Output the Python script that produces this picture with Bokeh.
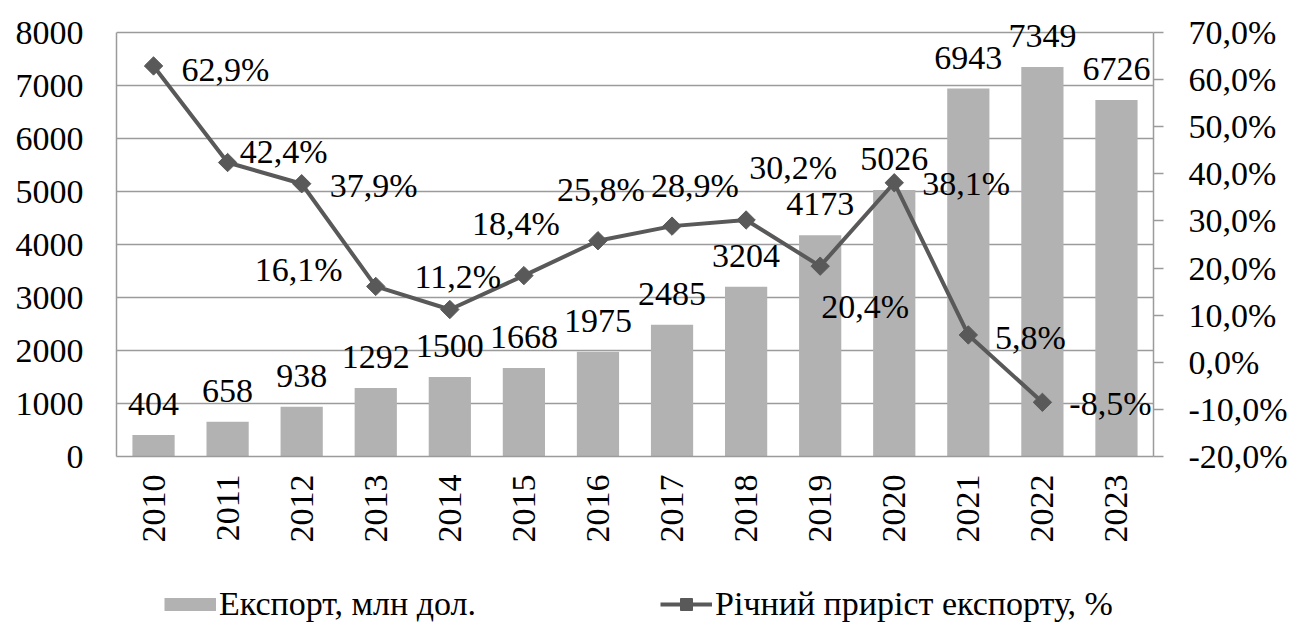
import math
from bokeh.plotting import figure
from bokeh.layouts import column
from bokeh.models import (ColumnDataSource, FactorRange, Range1d, LinearAxis, FixedTicker,
                          CustomJSTickFormatter, LabelSet, Legend, LegendItem)
from bokeh.embed import file_html
from bokeh.resources import INLINE

# ---- data ----
years = ["2010", "2011", "2012", "2013", "2014", "2015", "2016",
         "2017", "2018", "2019", "2020", "2021", "2022", "2023"]
export = [404, 658, 938, 1292, 1500, 1668, 1975, 2485, 3204, 4173, 5026, 6943, 7349, 6726]
growth_years = ["2010", "2011", "2012", "2013", "2014", "2015", "2016",
                "2017", "2018", "2019", "2020", "2021", "2022"]
growth = [62.9, 42.4, 37.9, 16.1, 11.2, 18.4, 25.8, 28.9, 30.2, 20.4, 38.1, 5.8, -8.5]
left_ticks = [0, 1000, 2000, 3000, 4000, 5000, 6000, 7000, 8000]
right_ticks = [-20, -10, 0, 10, 20, 30, 40, 50, 60, 70]
left_bounds = (0, 8000)
right_bounds = (-20, 70)
legend_labels = ["Експорт, млн дол.", "Річний приріст експорту, %"]

export_labels = [str(v) for v in export]
growth_labels = [f"{v:.1f}".replace(".", ",") + "%" for v in growth]

# label placement (screen px, relative to point)
growth_dx = [72, 56, 72, -77, 8, -8, 3, 23, 47, 45, 72, 62, 68]
growth_dy = [-4, 11, -2, 17, 33, 52, 51, 41, 53, -40, -1, -3, -1]

FONT = "Liberation Serif"
GRID = "#9b9b9b"
BAR = "#b2b2b2"
LINE = "#595959"

# layout: axes span 424 px; the frame extends above the top tick so labels are not clipped
AXIS_PX = 424.0
FRAME_PX = 456.0
left_end = left_bounds[0] + (left_bounds[1] - left_bounds[0]) * FRAME_PX / AXIS_PX
right_end = right_bounds[0] + (right_bounds[1] - right_bounds[0]) * FRAME_PX / AXIS_PX

src = ColumnDataSource(dict(year=years, export=export, lab=export_labels))
gsrc = ColumnDataSource(dict(year=growth_years, growth=growth, lab=growth_labels,
                             dx=growth_dx, dy=growth_dy))

p = figure(x_range=FactorRange(*years), y_range=Range1d(left_bounds[0], left_end),
           width=1290, height=546, output_backend="svg", toolbar_location=None,
           min_border_left=116, min_border_right=136, min_border_top=0, min_border_bottom=90)
p.extra_y_ranges = {"pct": Range1d(right_bounds[0], right_end)}
p.outline_line_color = None
p.background_fill_color = "white"
p.border_fill_color = "white"

# left axis
p.yaxis.ticker = FixedTicker(ticks=left_ticks)
p.yaxis.bounds = left_bounds
p.yaxis.major_tick_line_color = None
p.yaxis.minor_tick_line_color = None
p.yaxis.axis_line_color = GRID
p.yaxis.axis_line_width = 1.5
p.yaxis.major_label_standoff = 27
p.yaxis.major_label_text_font = FONT
p.yaxis.major_label_text_font_size = "34px"
p.yaxis.major_label_text_color = "black"

# bottom axis
p.xaxis.major_label_orientation = math.pi / 2
p.xaxis.major_tick_line_color = None
p.xaxis.minor_tick_line_color = None
p.xaxis.axis_line_color = GRID
p.xaxis.axis_line_width = 1.5
p.xaxis.major_label_standoff = 12
p.xaxis.major_label_text_font = FONT
p.xaxis.major_label_text_font_size = "34px"
p.xaxis.major_label_text_color = "black"

# right axis
raxis = LinearAxis(y_range_name="pct", ticker=FixedTicker(ticks=right_ticks), bounds=right_bounds,
                   formatter=CustomJSTickFormatter(code="return tick.toFixed(1).replace('.', ',') + '%';"))
raxis.axis_line_color = GRID
raxis.axis_line_width = 1.5
raxis.major_tick_line_color = GRID
raxis.major_tick_line_width = 1.5
raxis.major_tick_out = 10
raxis.major_tick_in = 0
raxis.minor_tick_line_color = None
raxis.major_label_standoff = 25
raxis.major_label_text_font = FONT
raxis.major_label_text_font_size = "34px"
raxis.major_label_text_color = "black"
p.add_layout(raxis, "right")

p.xgrid.grid_line_color = None
p.ygrid.grid_line_color = GRID
p.ygrid.grid_line_width = 1.5

bars = p.vbar(x="year", top="export", width=0.57, source=src,
              fill_color=BAR, line_color=None)
line = p.line(x="year", y="growth", source=gsrc, y_range_name="pct",
              line_color=LINE, line_width=4)
marks = p.scatter(x="year", y="growth", source=gsrc, y_range_name="pct",
                  marker="square", angle=math.pi / 4, size=13,
                  fill_color=LINE, line_color=LINE)

bar_labels = LabelSet(x="year", y="export", text="lab", source=src, y_offset=31,
                      text_align="center", text_baseline="middle",
                      text_font=FONT, text_font_size="34px", text_color="black")
p.add_layout(bar_labels)

g_labels = LabelSet(x="year", y="growth", text="lab", source=gsrc, y_range_name="pct",
                    x_offset="dx", y_offset="dy",
                    text_align="center", text_baseline="middle",
                    text_font=FONT, text_font_size="34px", text_color="black")
p.add_layout(g_labels)

# ---- legend strip (separate figure so it is not clipped by the plot frame) ----
lf = figure(width=1290, height=78, output_backend="svg", toolbar_location=None,
            x_range=Range1d(0, 1), y_range=Range1d(0, 1),
            min_border=0, min_border_left=0, min_border_right=0,
            min_border_top=0, min_border_bottom=0)
lf.axis.visible = False
lf.grid.visible = False
lf.outline_line_color = None
# legend-only proxies, placed outside the visible range
lswatch = lf.line(x=[-5, -4], y=[-5, -5], line_color=BAR, line_width=13, line_cap="butt")
lline = lf.line(x=[-5, -4], y=[-5, -5], line_color=LINE, line_width=4)
lmark = lf.scatter(x=[-5], y=[-5], marker="square", angle=math.pi / 4, size=13,
                   fill_color=LINE, line_color=LINE)

legend = Legend(items=[LegendItem(label=legend_labels[0], renderers=[lswatch]),
                       LegendItem(label=legend_labels[1], renderers=[lline, lmark])],
                orientation="horizontal", location=(48, 1),
                glyph_width=52, glyph_height=30, label_standoff=3, spacing=184,
                padding=0, margin=0, border_line_color=None, background_fill_alpha=0,
                label_text_font=FONT, label_text_font_size="34px", label_text_color="black")
lf.add_layout(legend, "center")

layout = column(p, lf, spacing=0)
open("out.html", "w").write(file_html(layout, INLINE))
